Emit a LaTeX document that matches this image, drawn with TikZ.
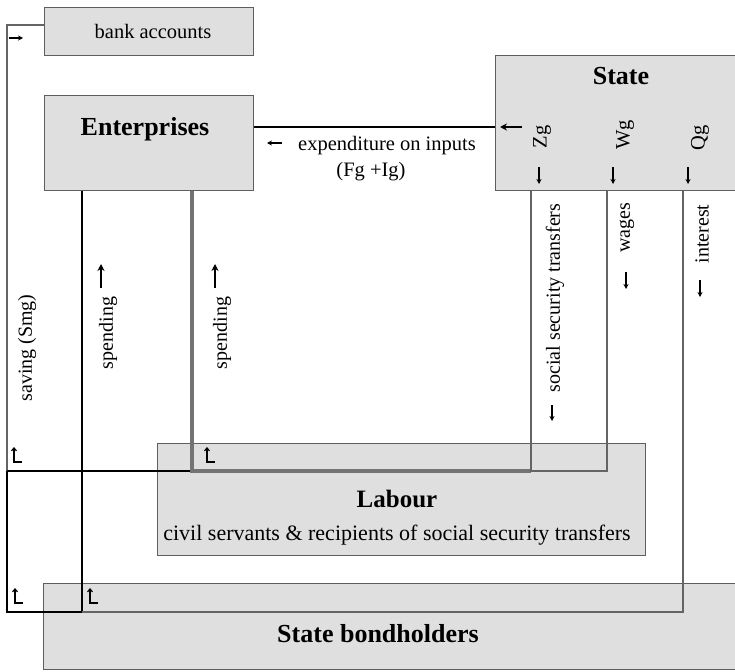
\documentclass[tikz,border=0pt]{standalone}
\usepackage{fontspec}
\setmainfont{Liberation Serif}
\usetikzlibrary{arrows.meta,calc}
\definecolor{boxfill}{HTML}{DFDFDF}
\definecolor{boxline}{HTML}{5E5E5E}
\definecolor{flowgray}{HTML}{646464}
\definecolor{thickgray}{HTML}{737373}
\begin{document}
\begin{tikzpicture}[x=1pt,y=-1pt,
  box/.style={draw=boxline,fill=boxfill,line width=1.2pt,inner sep=0pt,anchor=north west},
  flowg/.style={draw=flowgray,line width=2.6pt},
  flowthick/.style={draw=thickgray,line width=4pt},
  thinblack/.style={draw=black,line width=1.3pt},
  expline/.style={draw=black,line width=2.6pt},
  title/.style={font=\bfseries\fontsize{26}{28}\selectfont,inner sep=0pt},
  boxtext/.style={font=\fontsize{20.5}{22}\selectfont,inner sep=0pt},
  subtext/.style={font=\fontsize{22}{24}\selectfont,inner sep=0pt},
  lbl/.style={font=\fontsize{20}{22}\selectfont,rotate=90,inner sep=0pt},
  glyph/.style={line width=1.3pt,-{Stealth[length=5pt,width=5pt]}},
  boldglyph/.style={line width=2.2pt,-{Stealth[length=7pt,width=7pt]}},
  turnup/.pic={\draw[line width=1.2pt,-{Straight Barb[length=3pt,width=5pt]}] (15,-9) -- (7,-9) -- (7,-24);}
]
\useasboundingbox (0,0) rectangle (735,671);
\fill[white] (0,0) rectangle (735,671);

% boxes
\node[box,minimum width=209pt,minimum height=48pt] (bank) at (44,7) {};
\node[box,minimum width=209pt,minimum height=95pt] (ent) at (44,95) {};
\node[box,minimum width=250pt,minimum height=135pt] (state) at (495,55) {};
\node[box,minimum width=488pt,minimum height=112pt] (labour) at (157,443) {};
\node[box,minimum width=700pt,minimum height=86pt] (bond) at (43,583) {};

% rails
\coordinate (ysav) at (0,25);
\coordinate (yexp) at (0,127);
\coordinate (ylab) at (0,471);
\coordinate (ybond) at (0,612);
\coordinate (xL) at (7,0);
\coordinate (xE) at (82,0);
\coordinate (xS) at (192,0);
\coordinate (xZ) at (531,0);
\coordinate (xW) at (607,0);
\coordinate (xQ) at (683,0);

% connectors
\draw[flowg] (bank.west |- ysav) -| (xL |- ylab);
\draw[thinblack] (xL |- ylab) |- (xE |- ybond);
\draw[thinblack] (xS |- ylab) -- (xL |- ylab);
\draw[thinblack] (ent.south -| xE) -- (xE |- ybond);
\draw[flowthick] (xZ |- ylab) -| (ent.south -| xS);
\draw[flowg] (state.south -| xZ) |- (xW |- ylab) -- (state.south -| xW);
\draw[flowg] (state.south -| xQ) |- (xE |- ybond);
\draw[expline] (state.west |- yexp) -- (ent.east |- yexp);

% turn-up marks
\pic at (xL |- ylab) {turnup};
\pic at ($(xS |- ylab)+(8,0)$) {turnup};
\pic at ($(xL |- ybond)+(1,0)$) {turnup};
\pic at ($(xE |- ybond)+(1,0)$) {turnup};

% box texts
\node[boxtext] (tbank) at (153,31) {bank accounts};
\node[title] (tent) at (145,129) {Enterprises};
\node[title] (tstate) at (621,76) {State};
\node[title,font=\bfseries\fontsize{25}{27}\selectfont] (tlab) at (397,499) {Labour};
\node[subtext] (tlabsub) at (397,535) {civil servants \& recipients of social security transfers};
\node[title] (tbond) at (378,634) {State bondholders};

% expenditure label
\node[boxtext] (texp) at (387,146) {expenditure on inputs};
\node[boxtext] (tfg) at (371,172) {(Fg +Ig)};

% state sub-labels
\node[boxtext,rotate=90] (tzg) at (542,137) {Zg};
\node[boxtext,rotate=90] (twg) at (625,135) {Wg};
\node[boxtext,rotate=90] (tqg) at (700,138) {Qg};

% flow labels
\node[lbl] (tsav) at (27,348) {saving (Smg)};
\node[lbl] (tsp1) at (108,333) {spending};
\node[lbl] (tsp2) at (222,333) {spending};
\node[lbl] (tsst) at (555,298) {social security transfers};
\node[lbl] (twag) at (627,228) {wages};
\node[lbl] (tint) at (702,234) {interest};

% arrow glyphs
\draw[glyph] (282,143) -- (267,143);
\draw[boldglyph,line width=1.8pt] (522,127) -- (500,127);
\draw[glyph,line width=1.8pt] (539,167) -- (539,184);
\draw[glyph,line width=1.8pt] (613,167) -- (613,184);
\draw[glyph,line width=1.8pt] (688,167) -- (688,184);
\draw[boldglyph] (101,288) -- (101,264);
\draw[boldglyph] (215,288) -- (215,264);
\draw[glyph,line width=1.6pt] (552,405) -- (552,421);
\draw[glyph,line width=1.6pt] (626,272) -- (626,289);
\draw[glyph,line width=1.6pt] (700,280) -- (700,297);
\draw[glyph] (9,38) -- (23,38);
\end{tikzpicture}
\end{document}
